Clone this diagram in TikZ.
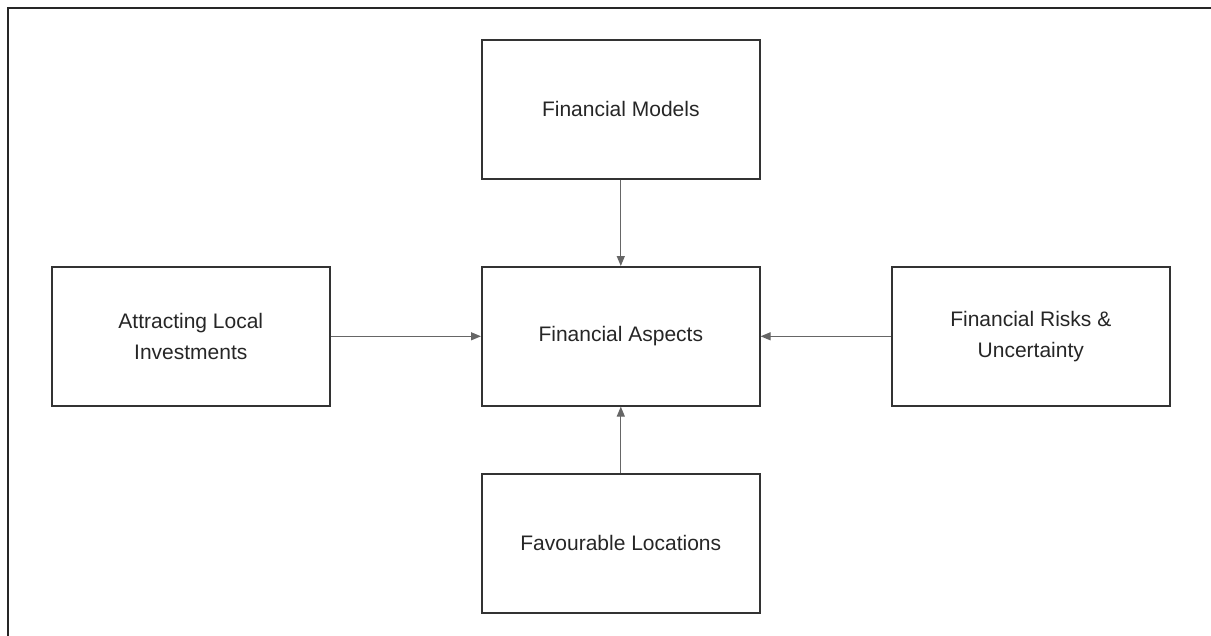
\documentclass[tikz,border=0pt]{standalone}
\usepackage{fontspec}
\setmainfont{Liberation Sans}
\usetikzlibrary{arrows.meta}
\begin{document}
\begin{tikzpicture}[x=1pt,y=-1pt,
  box/.style={draw=black!80,line width=1.6pt,minimum width=278pt,minimum height=139pt,inner sep=0pt,align=center,text=black!85,font=\fontsize{21}{31}\selectfont,anchor=north west},
  link/.style={draw=black!60,line width=1.2pt,-{Triangle[length=10pt,width=8pt]}}]
\useasboundingbox (0,0) rectangle (1211,635);
\begin{scope}
\clip (0,0) rectangle (1211,635);
\draw[black!85,line width=2.2pt] (8,8) rectangle (1230,660);
\end{scope}
\node[box] (fm) at (481,39) {Financial Models};
\node[box] (fa) at (481,266) {Financial Aspects};
\node[box] (al) at (51,266) {Attracting Local\\Investments};
\node[box] (fr) at (891,266) {Financial Risks \&\\Uncertainty};
\node[box] (fl) at (481,473) {Favourable Locations};
\draw[link] (fm.south) -- (fa.north);
\draw[link] (fl.north) -- (fa.south);
\draw[link] (al.east) -- (fa.west);
\draw[link] (fr.west) -- (fa.east);
\end{tikzpicture}
\end{document}
